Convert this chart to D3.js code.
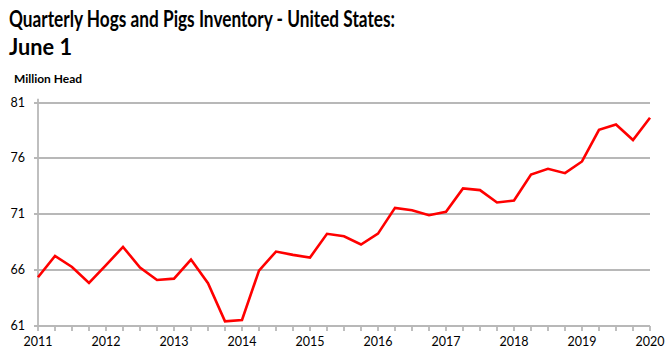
<!DOCTYPE html>
<html>
<head>
<meta charset="utf-8">
<script src="https://cdn.jsdelivr.net/npm/d3@7"></script>
<style>
  html, body { margin: 0; padding: 0; background: #fff; }
  svg { display: block; }
  text { font-family: Lato, "Liberation Sans", Arial, sans-serif; fill: #000; }
</style>
</head>
<body>
<svg id="chart" width="671" height="357"></svg>
<script>
// ---- data ----
const titleLines = ["Quarterly Hogs and Pigs Inventory - United States:", "June 1"];
const unitLabel = "Million Head";
const quarters = [
  "2011Q1","2011Q2","2011Q3","2011Q4",
  "2012Q1","2012Q2","2012Q3","2012Q4",
  "2013Q1","2013Q2","2013Q3","2013Q4",
  "2014Q1","2014Q2","2014Q3","2014Q4",
  "2015Q1","2015Q2","2015Q3","2015Q4",
  "2016Q1","2016Q2","2016Q3","2016Q4",
  "2017Q1","2017Q2","2017Q3","2017Q4",
  "2018Q1","2018Q2","2018Q3","2018Q4",
  "2019Q1","2019Q2","2019Q3","2019Q4",
  "2020Q1"
];
const inventory = [
  65.35, 67.26, 66.27, 64.84,
  66.43, 68.07, 66.21, 65.10,
  65.22, 66.93, 64.81, 61.39,
  61.51, 65.94, 67.65, 67.35,
  67.11, 69.24, 69.02, 68.28,
  69.26, 71.57, 71.36, 70.91,
  71.21, 73.31, 73.16, 72.05,
  72.23, 74.56, 75.07, 74.68,
  75.73, 78.57, 79.05, 77.65,
  79.65
];
const yTicks = [61, 66, 71, 76, 81];
const xYearLabels = ["2011","2012","2013","2014","2015","2016","2017","2018","2019","2020"];

// ---- helpers ----
const toNum = q => +q.slice(0, 4) + (+q.slice(5) - 1) / 4;

const svg = d3.select("#chart");
const x = d3.scaleLinear().domain([2011, 2020]).range([38, 650]);
const y = d3.scaleLinear().domain([61, 81]).range([325.7, 102.7]);
const gridColor = "#b8b8b8";

// title
svg.append("text").attr("x", 9).attr("y", 26.5)
  .attr("font-size", 22).attr("font-weight", "bold")
  .attr("textLength", 386).attr("lengthAdjust", "spacingAndGlyphs")
  .text(titleLines[0]);
svg.append("text").attr("x", 9).attr("y", 54.5)
  .attr("font-size", 22).attr("font-weight", "bold")
  .attr("textLength", 63).attr("lengthAdjust", "spacingAndGlyphs")
  .text(titleLines[1]);

// unit label
svg.append("text").attr("x", 14).attr("y", 82.5)
  .attr("font-size", 12).attr("font-weight", "bold")
  .attr("textLength", 68).attr("lengthAdjust", "spacingAndGlyphs")
  .text(unitLabel);

// grid lines
svg.append("g").selectAll("line").data(yTicks).join("line")
  .attr("x1", 34).attr("x2", 650)
  .attr("y1", d => Math.round(y(d))).attr("y2", d => Math.round(y(d)))
  .attr("stroke", gridColor).attr("stroke-width", 1.8);

// y axis line
svg.append("line")
  .attr("x1", 38).attr("x2", 38)
  .attr("y1", y(81) - 4).attr("y2", y(61))
  .attr("stroke", gridColor).attr("stroke-width", 1.8);

// y tick labels
svg.append("g").selectAll("text").data(yTicks).join("text")
  .attr("x", 25).attr("y", d => y(d) + 4)
  .attr("text-anchor", "end").attr("font-size", 12.5)
  .text(d => d);

// x quarter ticks
const tickQs = quarters.map(toNum);
svg.append("g").selectAll("line").data(tickQs).join("line")
  .attr("x1", d => Math.round(x(d))).attr("x2", d => Math.round(x(d)))
  .attr("y1", Math.round(y(61))).attr("y2", Math.round(y(61)) + 5)
  .attr("stroke", gridColor).attr("stroke-width", 1.8);

// x year labels
svg.append("g").selectAll("text").data(xYearLabels).join("text")
  .attr("x", d => x(+d)).attr("y", 346)
  .attr("text-anchor", "middle").attr("font-size", 12.5)
  .text(d => d);

// line
const line = d3.line()
  .x((d, i) => x(toNum(quarters[i])))
  .y(d => y(d));
svg.append("path").datum(inventory)
  .attr("d", line)
  .attr("fill", "none")
  .attr("stroke", "#ff0000")
  .attr("stroke-width", 2.6)
  .attr("stroke-linejoin", "miter");
</script>
</body>
</html>
